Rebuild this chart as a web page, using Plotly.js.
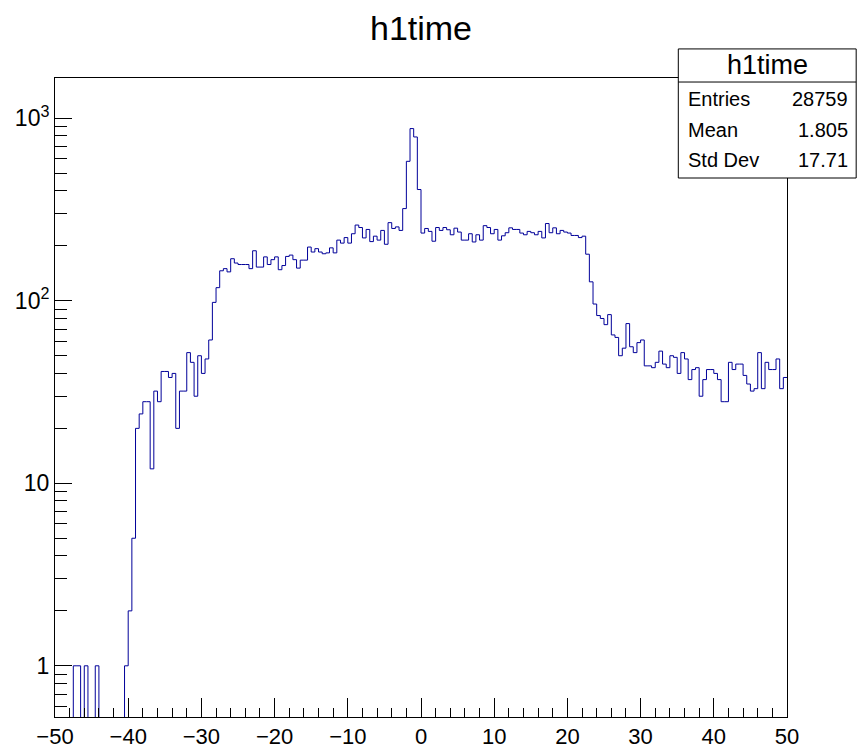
<!DOCTYPE html>
<html>
<head>
<meta charset="utf-8">
<script src="https://cdn.plot.ly/plotly-3.0.1.min.js"></script>
<style>
  html, body { margin: 0; padding: 0; background: #ffffff; }
  #chart { width: 858px; height: 748px; }
</style>
</head>
<body>
<div id="chart"></div>
<script>
// Histogram "h1time": 200 bins of 0.5 between -50 and 50
const histName = 'h1time';
const xMin = -50;
const xMax = 50;
const nBins = 200;

// Bin contents, ten bins per row, starting at x = -50
const binCounts = [
  0, 0, 0, 0, 0, 1, 1, 0, 1, 0,
  0, 1, 0, 0, 0, 0, 0, 0, 0, 1,
  2, 5, 20, 24, 28, 28, 12, 32, 28, 41,
  41, 38, 40, 20, 32, 32, 52, 46, 30, 50,
  40, 48, 61, 98, 118, 146, 150, 144, 170, 161,
  158, 158, 158, 150, 188, 153, 153, 174, 158, 168,
  174, 148, 156, 175, 178, 168, 151, 167, 167, 197,
  185, 193, 185, 181, 183, 195, 183, 215, 207, 222,
  207, 233, 260, 252, 221, 246, 211, 226, 215, 243,
  204, 268, 249, 254, 243, 320, 581, 878, 790, 407,
  235, 249, 240, 212, 252, 243, 252, 245, 230, 250,
  238, 215, 215, 233, 210, 230, 215, 258, 252, 233,
  246, 215, 227, 236, 251, 246, 246, 235, 230, 240,
  236, 230, 240, 221, 265, 236, 251, 233, 243, 238,
  235, 228, 228, 222, 226, 180, 127, 96, 83, 80,
  74, 84, 65, 63, 50, 55, 75, 56, 52, 59,
  61, 44, 44, 43, 46, 53, 45, 43, 50, 49,
  40, 52, 48, 37, 42, 43, 30, 37, 42, 42,
  40, 37, 28, 28, 46, 42, 45, 45, 39, 35,
  32, 33, 52, 33, 46, 42, 42, 48, 33, 38
];

// Statistics box rows
const statLabels = ['Entries', 'Mean', 'Std Dev'];
const statValues = ['28759', '1.805', '17.71'];

// Axis tick labels
const xTickVals = [-50, -40, -30, -20, -10, 0, 10, 20, 30, 40, 50];
const yTickVals = [1, 10, 100, 1000];
const yTickText = ['1', '10', '10<sup>2</sup>', '10<sup>3</sup>'];

// ---- histogram outline as a step line through the bin edges ----
const binWidth = (xMax - xMin) / nBins;
const edgeX = [];
const stepY = [];
const emptyLevel = 1e-3;          // empty bins fall to the bottom of the log frame
for (let i = 0; i < nBins; i++) {
  edgeX.push(xMin + i * binWidth);
  stepY.push(binCounts[i] > 0 ? binCounts[i] : emptyLevel);
}
edgeX.push(xMax);
stepY.push(stepY[stepY.length - 1]);

// minor log ticks 2..9 in every decade of the frame
const yMinorVals = [];
for (const d of [0.1, 1, 10, 100, 1000]) {
  for (let k = 2; k <= 9; k++) yMinorVals.push(k * d);
}

const yRangeLog = [-0.2805, 3.2207];

const fontFamily = '"Liberation Sans", Arial, Helvetica, sans-serif';

const trace = {
  type: 'scatter',
  mode: 'lines',
  x: edgeX,
  y: stepY,
  line: { shape: 'hv', color: '#000099', width: 1 },
  hoverinfo: 'skip',
  showlegend: false
};

// stats box geometry in paper units
const boxL = 0.8515, boxR = 1.0945, boxT = 1.0455, boxB = 0.8435, boxHead = 0.9937;
const rowY = [0.9671, 0.9194, 0.8709];

const shapes = [
  { type: 'rect', xref: 'paper', yref: 'paper', x0: boxL, x1: boxR, y0: boxB, y1: boxT,
    line: { color: '#000000', width: 1 }, fillcolor: '#ffffff', layer: 'above' },
  { type: 'line', xref: 'paper', yref: 'paper', x0: boxL, x1: boxR, y0: boxHead, y1: boxHead,
    line: { color: '#000000', width: 1 }, layer: 'above' }
];

const annotations = [
  { xref: 'paper', yref: 'paper', x: (boxL + boxR) / 2, y: (boxT + boxHead) / 2,
    text: histName, showarrow: false, xanchor: 'center', yanchor: 'middle',
    font: { family: fontFamily, size: 27, color: '#000000' } }
];
statLabels.forEach((lab, i) => {
  annotations.push({ xref: 'paper', yref: 'paper', x: boxL + 0.010, y: rowY[i],
    text: lab, showarrow: false, xanchor: 'left', yanchor: 'middle',
    font: { family: fontFamily, size: 20, color: '#000000' } });
  annotations.push({ xref: 'paper', yref: 'paper', x: boxR - 0.008, y: rowY[i],
    text: statValues[i], showarrow: false, xanchor: 'right', yanchor: 'middle',
    font: { family: fontFamily, size: 20, color: '#000000' } });
});

const layout = {
  width: 858,
  height: 748,
  margin: { l: 55, r: 71, t: 78, b: 31, pad: 0 },
  paper_bgcolor: '#ffffff',
  plot_bgcolor: '#ffffff',
  title: {
    text: histName,
    xref: 'paper', x: 0.5, xanchor: 'center',
    yref: 'container', y: 0.962, yanchor: 'middle',
    font: { family: fontFamily, size: 34, color: '#000000' }
  },
  xaxis: {
    type: 'linear',
    range: [xMin, xMax],
    tickmode: 'array',
    tickvals: xTickVals,
    ticks: 'inside',
    ticklen: 19,
    tickwidth: 1,
    tickcolor: '#000000',
    minor: { dtick: 2, tick0: 0, ticks: 'inside', ticklen: 9, tickwidth: 1, tickcolor: '#000000', showgrid: false },
    showline: true,
    linecolor: '#000000',
    linewidth: 1,
    mirror: true,
    showgrid: false,
    zeroline: false,
    tickfont: { family: fontFamily, size: 22, color: '#000000' },
    fixedrange: true
  },
  yaxis: {
    type: 'log',
    range: yRangeLog,
    tickmode: 'array',
    tickvals: yTickVals,
    ticktext: yTickText,
    ticks: 'inside',
    ticklen: 17,
    tickwidth: 1,
    tickcolor: '#000000',
    minor: { tickmode: 'array', tickvals: yMinorVals, ticks: 'inside', ticklen: 12, tickwidth: 1, tickcolor: '#000000', showgrid: false },
    showline: true,
    linecolor: '#000000',
    linewidth: 1,
    mirror: true,
    showgrid: false,
    zeroline: false,
    tickfont: { family: fontFamily, size: 23, color: '#000000' },
    fixedrange: true
  },
  shapes: shapes,
  annotations: annotations
};

Plotly.newPlot('chart', [trace], layout, { staticPlot: true, displayModeBar: false });
</script>
</body>
</html>
